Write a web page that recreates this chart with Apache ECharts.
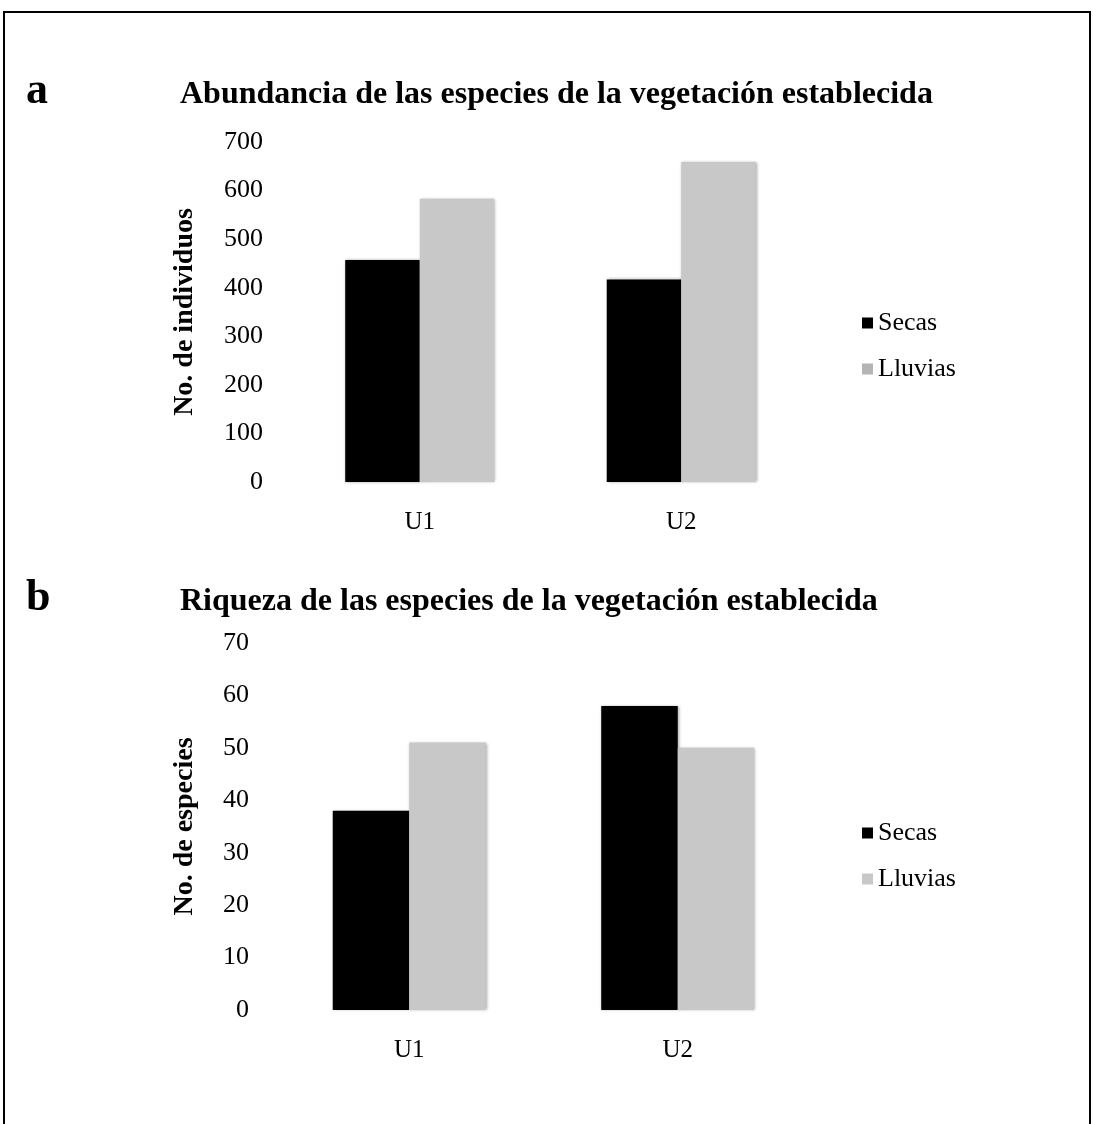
<!DOCTYPE html>
<html>
<head>
<meta charset="utf-8">
<script src="https://cdn.jsdelivr.net/npm/echarts@6/dist/echarts.min.js"></script>
<style>
html,body{margin:0;padding:0;background:#fff;}
#c{width:1093px;height:1124px;}
</style>
</head>
<body>
<div id="c"></div>
<script>
// ---- data ----
const categories = ['U1', 'U2'];
const seriesNames = ['Secas', 'Lluvias'];
const abundSecas = [457, 417];
const abundLluvias = [583, 659];
const riqSecas = [38, 58];
const riqLluvias = [51, 50];
const abundTicks = { min: 0, max: 700, interval: 100 };
const riqTicks = { min: 0, max: 70, interval: 10 };
const titleA = 'Abundancia de las especies de la vegetación establecida';
const titleB = 'Riqueza de las especies de la vegetación establecida';
const yNameA = 'No. de individuos';
const yNameB = 'No. de especies';

const serif = '"Liberation Serif", "Times New Roman", serif';
const colSecas = '#000000';
const colLluvias = '#c8c8c8';

const chart = echarts.init(document.getElementById('c'), null, { renderer: 'canvas' });

function yAxis(gridIndex, t, name, gap) {
  return {
    type: 'value', gridIndex: gridIndex, min: t.min, max: t.max, interval: t.interval,
    name: name, nameLocation: 'middle', nameRotate: 90, nameGap: gap,
    nameTextStyle: { fontFamily: serif, fontWeight: 'bold', fontSize: 28, color: '#000' },
    axisLine: { show: false }, axisTick: { show: false }, splitLine: { show: false },
    axisLabel: { fontFamily: serif, fontSize: 26, color: '#000', margin: 26, padding: [7, 0, 0, 0] }
  };
}
function xAxis(gridIndex) {
  return {
    type: 'category', gridIndex: gridIndex, data: categories,
    axisLine: { show: false }, axisTick: { show: false },
    axisLabel: { fontFamily: serif, fontSize: 25, color: '#000', margin: 28 }
  };
}
const barStyle = (c) => ({ color: c, shadowBlur: 3, shadowColor: 'rgba(0,0,0,0.35)', shadowOffsetX: 1, shadowOffsetY: 0 });
function bar(name, data, idx, color) {
  return {
    type: 'bar', name: name, data: data, xAxisIndex: idx, yAxisIndex: idx,
    barGap: '0%', barCategoryGap: '43%', itemStyle: barStyle(color), silent: true
  };
}
function legend(top, lluviasSwatch) {
  return {
    left: 857, top: top, orient: 'vertical', itemWidth: 11, itemHeight: 11, itemGap: 20,
    icon: 'rect', selectedMode: false,
    textStyle: { fontFamily: serif, fontSize: 26, color: '#000' },
    data: [
      { name: seriesNames[0], itemStyle: { color: colSecas } },
      { name: seriesNames[1], itemStyle: { color: lluviasSwatch } }
    ]
  };
}

const option = {
  backgroundColor: '#fff',
  animation: false,
  title: [
    { text: 'a', left: 21, top: 65, textStyle: { fontFamily: serif, fontWeight: 'bold', fontSize: 44, color: '#000' } },
    { text: titleA, left: 175, top: 74, textStyle: { fontFamily: serif, fontWeight: 'bold', fontSize: 32, color: '#000' } },
    { text: 'b', left: 21, top: 572, textStyle: { fontFamily: serif, fontWeight: 'bold', fontSize: 44, color: '#000' } },
    { text: titleB, left: 175, top: 581, textStyle: { fontFamily: serif, fontWeight: 'bold', fontSize: 32, color: '#000' } }
  ],
  legend: [legend(305, '#b4b4b4'), legend(815, colLluvias)],
  grid: [
    { left: 289, width: 523, top: 142, height: 340 },
    { left: 275, width: 537, top: 643, height: 367 }
  ],
  xAxis: [xAxis(0), xAxis(1)],
  yAxis: [yAxis(0, abundTicks, yNameA, 90), yAxis(1, riqTicks, yNameB, 76)],
  series: [
    bar(seriesNames[0], abundSecas, 0, colSecas),
    bar(seriesNames[1], abundLluvias, 0, colLluvias),
    bar(seriesNames[0], riqSecas, 1, colSecas),
    bar(seriesNames[1], riqLluvias, 1, colLluvias)
  ],
  graphic: [
    { type: 'polyline', silent: true, shape: { points: [[4, 1124], [4, 12], [1090, 12], [1090, 1124]] },
      style: { stroke: '#000', lineWidth: 2, fill: null } }
  ]
};
chart.setOption(option);
</script>
</body>
</html>
